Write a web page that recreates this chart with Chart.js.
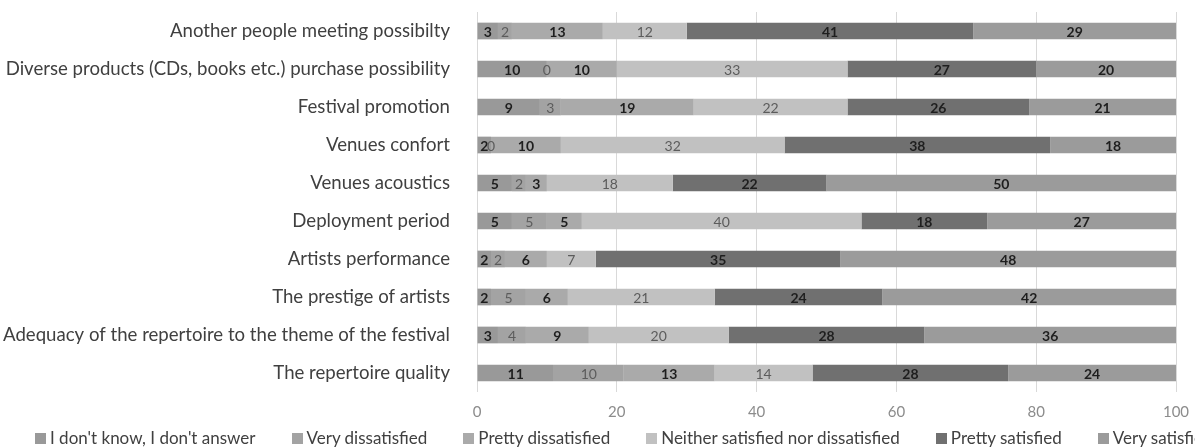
<!DOCTYPE html>
<html>
<head>
<meta charset="utf-8">
<script src="https://cdn.jsdelivr.net/npm/chart.js@4.4.0/dist/chart.umd.min.js"></script>
<style>
  html, body { margin: 0; padding: 0; background: #fff; overflow: hidden; }
  #wrap { position: relative; width: 1195px; height: 448px; }
  #legend { position: absolute; left: 35px; top: 428px; display: flex; white-space: nowrap;
            font: 17px Lato, sans-serif; color: #404040; line-height: 20px; }
  .item { display: flex; align-items: center; margin-right: 36px; }
  .box { width: 11px; height: 11px; margin-right: 4px; }
</style>
</head>
<body>
<div id="wrap">
  <canvas id="chart"></canvas>
  <div id="legend"></div>
</div>
<script>
// categories (top to bottom)
const categories = [
    'Another people meeting possibilty',
    'Diverse products (CDs, books etc.) purchase possibility',
    'Festival promotion',
    'Venues confort',
    'Venues acoustics',
    'Deployment period',
    'Artists performance',
    'The prestige of artists',
    'Adequacy of the repertoire to the theme of the festival',
    'The repertoire quality'
];

// series names
const seriesNames = [
    "I don't know, I don't answer",
    'Very dissatisfied',
    'Pretty dissatisfied',
    'Neither satisfied nor dissatisfied',
    'Pretty satisfied',
    'Very satisfied'
];

// series values (%)
const dontKnow           = [3, 10, 9, 2, 5, 5, 2, 2, 3, 11];
const veryDissatisfied   = [2, 0, 3, 0, 2, 5, 2, 5, 4, 10];
const prettyDissatisfied = [13, 10, 19, 10, 3, 5, 6, 6, 9, 13];
const neither            = [12, 33, 22, 32, 18, 40, 7, 21, 20, 14];
const prettySatisfied    = [41, 27, 26, 38, 22, 18, 35, 24, 28, 28];
const verySatisfied      = [29, 20, 21, 18, 50, 27, 48, 42, 36, 24];

// x axis ticks
const xTicks = [0, 20, 40, 60, 80, 100];

// styles
const seriesColors = ['#999999', '#a3a3a3', '#aaaaaa', '#c1c1c1', '#707070', '#9b9b9b'];
const labelColors  = ['#1e1e1e', '#5c5c5c', '#1e1e1e', '#5c5c5c', '#1e1e1e', '#1e1e1e'];
const labelWeights = ['bold', 'normal', 'bold', 'normal', 'bold', 'bold'];

const seriesValues = [dontKnow, veryDissatisfied, prettyDissatisfied, neither, prettySatisfied, verySatisfied];

Chart.defaults.font.family = 'Lato, sans-serif';

// value labels in the middle of each segment
const valueLabels = {
    id: 'valueLabels',
    afterDatasetsDraw(chart) {
        const ctx = chart.ctx;
        ctx.save();
        ctx.textAlign = 'center';
        ctx.textBaseline = 'middle';
        chart.data.datasets.forEach((ds, i) => {
            const meta = chart.getDatasetMeta(i);
            ctx.fillStyle = labelColors[i];
            ctx.font = labelWeights[i] + ' 14px Lato, sans-serif';
            meta.data.forEach((bar, j) => {
                ctx.fillText(String(ds.data[j]), (bar.x + bar.base) / 2, bar.y + 1);
            });
        });
        ctx.restore();
    }
};

new Chart(document.getElementById('chart'), {
    type: 'bar',
    data: {
        labels: categories,
        datasets: seriesNames.map((name, i) => ({
            label: name,
            data: seriesValues[i],
            backgroundColor: seriesColors[i],
            borderWidth: 0,
            barPercentage: 0.44,
            categoryPercentage: 1
        }))
    },
    options: {
        indexAxis: 'y',
        responsive: true,
        maintainAspectRatio: false,
        animation: false,
        layout: { padding: { left: 0, right: 19, top: 12, bottom: 16 } },
        plugins: {
            legend: { display: false },
            tooltip: { enabled: false }
        },
        scales: {
            x: {
                stacked: true,
                min: 0,
                max: 100,
                afterBuildTicks: (scale) => { scale.ticks = xTicks.map(v => ({ value: v })); },
                afterFit: (scale) => { scale.paddingLeft = 0; scale.paddingRight = 0; },
                ticks: { color: '#8c8c8c', font: { size: 15 }, padding: 11 },
                grid: { color: '#d9d9d9', drawTicks: false },
                border: { display: false }
            },
            y: {
                stacked: true,
                afterFit: (scale) => {
                    scale.width = 477;
                    scale.paddingTop = 0;
                    scale.paddingBottom = 0;
                },
                ticks: { color: '#404040', font: { size: 18.6 }, padding: 19 },
                grid: { display: false },
                border: { display: false }
            }
        }
    },
    plugins: [valueLabels]
});

// legend (html, runs off the right edge like the original)
const legend = document.getElementById('legend');
seriesNames.forEach((name, i) => {
    const item = document.createElement('div');
    item.className = 'item';
    item.innerHTML = '<span class="box" style="background:' + seriesColors[i] + '"></span>' + name;
    legend.appendChild(item);
});
</script>
</body>
</html>
